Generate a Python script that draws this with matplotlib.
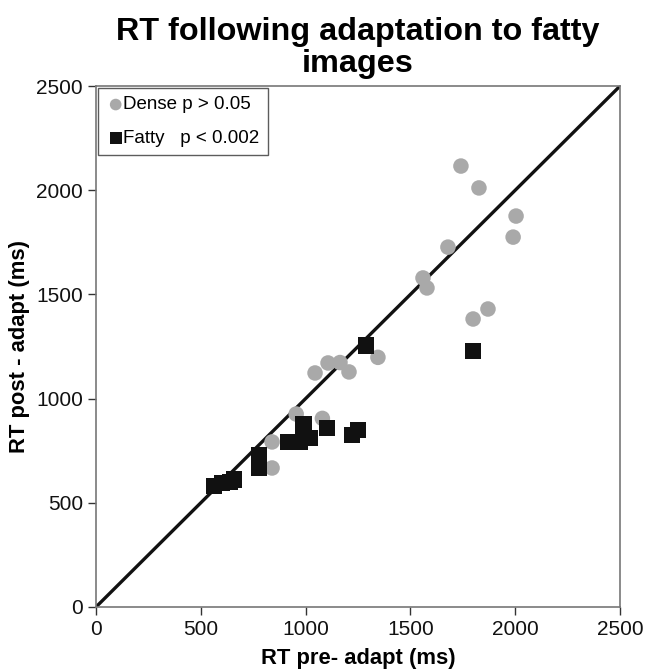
import matplotlib
matplotlib.use("Agg")
import matplotlib.pyplot as plt

plt.rcParams['font.family'] = ['Liberation Sans', 'DejaVu Sans']

dense_x = [1741, 1827, 2004, 1990, 1679, 1560, 1579, 1870, 1799, 1345,
           1045, 1107, 1164, 1207, 955, 1080, 840, 840]
dense_y = [2116, 2011, 1876, 1775, 1727, 1579, 1531, 1430, 1382, 1198,
           1123, 1171, 1173, 1128, 926, 905, 792, 667]

fatty_x = [565, 600, 640, 660, 778, 778, 916, 973, 990, 990, 1021,
           1102, 1221, 1250, 1290, 1799]
fatty_y = [582, 595, 600, 612, 667, 729, 792, 792, 845, 880, 811,
           859, 825, 849, 1255, 1228]

diag = [0, 2500]

fig = plt.figure(figsize=(6.46, 6.69), dpi=100)
ax = fig.add_axes([0.1486, 0.0927, 0.9598 - 0.1486, 0.8714 - 0.0927])

ax.plot(diag, diag, color='#111111', lw=2.4, zorder=1)
ax.scatter(dense_x, dense_y, s=125, marker='o', color='#a9a9a9',
           edgecolors='none', zorder=2, label='Dense p > 0.05')
ax.scatter(fatty_x, fatty_y, s=135, marker='s', color='#111111',
           edgecolors='none', zorder=3, label='Fatty   p < 0.002')

ax.set_xlim(0, 2500)
ax.set_ylim(0, 2500)
ax.set_xticks([0, 500, 1000, 1500, 2000, 2500])
ax.set_yticks([0, 500, 1000, 1500, 2000, 2500])
ax.tick_params(direction='out', length=6, width=1, colors='#333333',
               labelsize=15, labelcolor='#111111')
for sp in ax.spines.values():
    sp.set_color('#777777')
    sp.set_linewidth(1.2)

ax.set_xlabel('RT pre- adapt (ms)', fontsize=15.8, fontweight='bold', labelpad=6)
ax.set_ylabel('RT post - adapt (ms)', fontsize=15.8, fontweight='bold', labelpad=4)
ax.set_title('RT following adaptation to fatty\nimages', fontsize=23.3,
             fontweight='bold', pad=10, linespacing=1.09)

leg = ax.legend(loc='upper left', bbox_to_anchor=(0.0, 1.0), frameon=True,
                fancybox=False, edgecolor='#333333', fontsize=13.5,
                handletextpad=-0.1, handlelength=1.0, borderpad=0.45,
                labelspacing=0.85, markerscale=0.75, borderaxespad=0.1)
leg.get_frame().set_linewidth(1.0)

fig.savefig('out.png', dpi=100)
